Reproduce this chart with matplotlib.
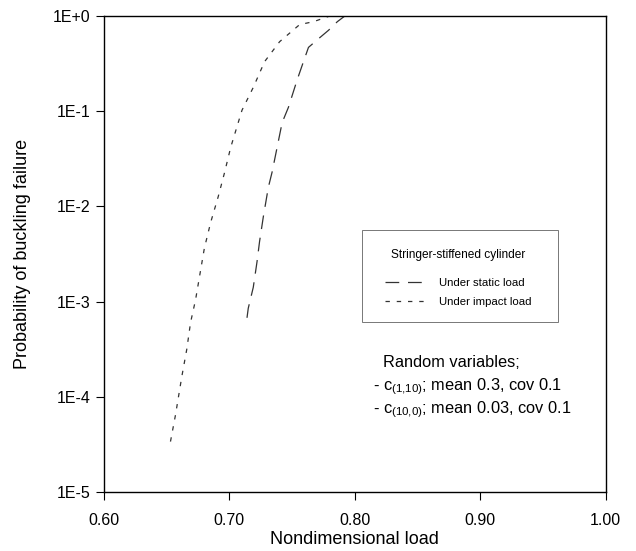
import numpy as np
import matplotlib
matplotlib.use('Agg')
import matplotlib.pyplot as plt
from matplotlib.lines import Line2D
from matplotlib.patches import Rectangle
from matplotlib.ticker import FixedLocator, FuncFormatter

plt.rcParams['font.family'] = ['Liberation Sans', 'DejaVu Sans']
plt.rcParams['mathtext.fontset'] = 'custom'
plt.rcParams['mathtext.rm'] = 'Liberation Sans'

# static load (dashed)
static_load = [0.714, 0.715, 0.719, 0.722, 0.724, 0.727, 0.731, 0.734, 0.738,
               0.742, 0.747, 0.754, 0.759, 0.763, 0.770, 0.779, 0.786, 0.792]
static_logp = [-3.17, -3.07, -2.85, -2.58, -2.37, -2.11, -1.80, -1.64, -1.38,
               -1.12, -0.96, -0.67, -0.48, -0.33, -0.25, -0.15, -0.06, 0.0]

# impact load (dotted)
impact_load = [0.653, 0.657, 0.662, 0.666, 0.669, 0.673, 0.680, 0.685, 0.691,
               0.696, 0.701, 0.710, 0.719, 0.728, 0.740, 0.756, 0.767, 0.780]
impact_logp = [-4.47, -4.19, -3.79, -3.50, -3.22, -2.98, -2.44, -2.17, -1.90,
               -1.65, -1.38, -0.99, -0.75, -0.48, -0.27, -0.09, -0.06, 0.0]

x_ticks = [0.60, 0.70, 0.80, 0.90, 1.00]
y_exponents = [0, -1, -2, -3, -4, -5]

STATIC_DASH = (11, 7)
IMPACT_DASH = (3.5, 5.5)


def exp_label(v, pos):
    e = int(round(np.log10(v)))
    return '1E+%d' % e if e >= 0 else '1E%d' % e


fig = plt.figure(figsize=(6.36, 5.51), dpi=100)
ax = fig.add_axes([0.1635, 0.107, 0.789, 0.864])

ax.semilogy(static_load, 10.0 ** np.array(static_logp), color='#333333',
            lw=0.9, dashes=STATIC_DASH)
ax.semilogy(impact_load, 10.0 ** np.array(impact_logp), color='#333333',
            lw=0.9, dashes=IMPACT_DASH)

ax.set_xlim(0.60, 1.00)
ax.set_ylim(1e-5, 1.0)
ax.xaxis.set_major_locator(FixedLocator(x_ticks))
ax.xaxis.set_major_formatter(FuncFormatter(lambda v, p: '%.2f' % v))
ax.yaxis.set_major_locator(FixedLocator([10.0 ** e for e in y_exponents]))
ax.yaxis.set_major_formatter(FuncFormatter(exp_label))
ax.yaxis.set_minor_locator(FixedLocator([]))
ax.tick_params(direction='out', length=6, width=0.8, labelsize=11.5)
ax.tick_params(axis='x', pad=9)

for s in ax.spines.values():
    s.set_linewidth(1.0)

ax.set_xlabel('Nondimensional load', fontsize=13, labelpad=2)
ax.set_ylabel('Probability of buckling failure', fontsize=13, labelpad=16)

# legend box (drawn separately so the padding matches)
ax.add_patch(Rectangle((0.514, 0.357), 0.390, 0.193, transform=ax.transAxes,
                       fill=False, edgecolor='#777777', lw=0.7))
handles = [Line2D([], [], color='#333333', lw=0.9, dashes=STATIC_DASH),
           Line2D([], [], color='#333333', lw=0.9, dashes=IMPACT_DASH)]
leg = ax.legend(handles, ['Under static load', 'Under impact load'],
                title='Stringer-stiffened cylinder', fontsize=8.2,
                title_fontsize=8.6, loc='upper center',
                bbox_to_anchor=(0.706, 0.53), frameon=False,
                handlelength=3.4, handletextpad=1.3, labelspacing=0.85,
                borderpad=0.3)
leg._legend_box.sep = 12

ax.text(0.556, 0.273, 'Random variables;', transform=ax.transAxes,
        fontsize=11.8, va='center')
ax.text(0.536, 0.222, r'- c$_{(1{,}10)}$; mean 0.3, cov 0.1',
        transform=ax.transAxes, fontsize=11.8, va='center')
ax.text(0.536, 0.172, r'- c$_{(10{,}0)}$; mean 0.03, cov 0.1',
        transform=ax.transAxes, fontsize=11.8, va='center')

fig.savefig('out.png', dpi=100)
